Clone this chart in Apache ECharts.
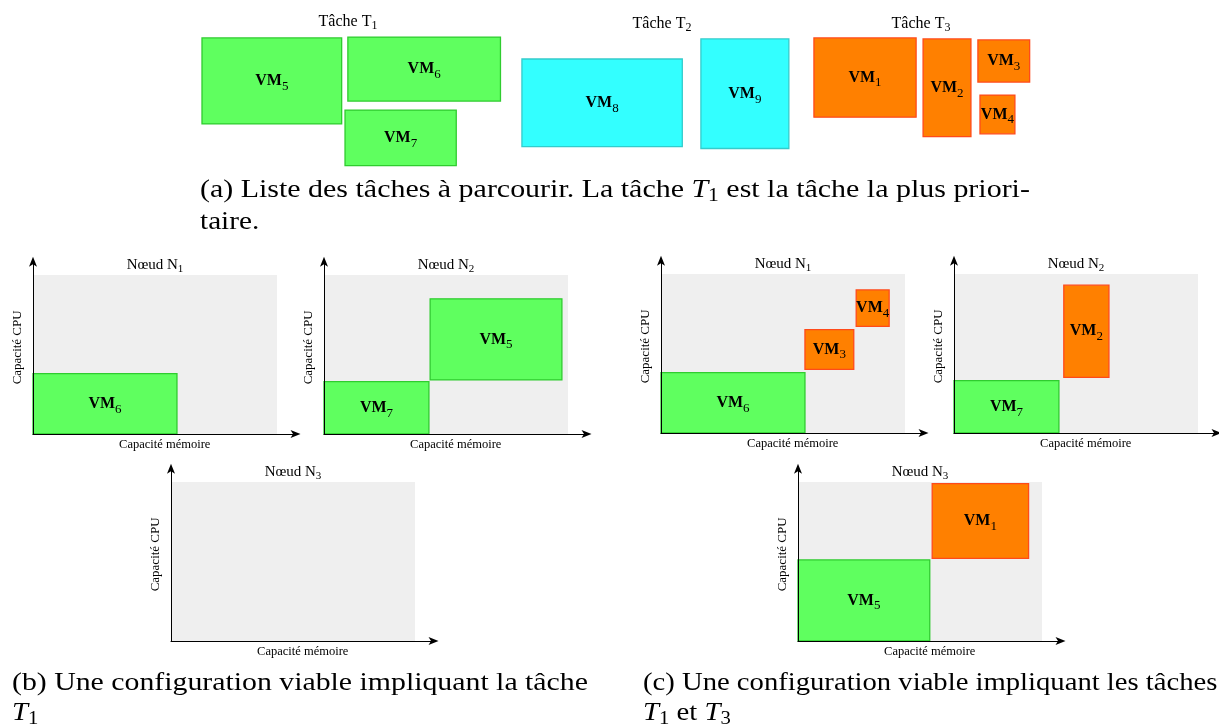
<!DOCTYPE html>
<html>
<head>
<meta charset="utf-8">
<script src="https://cdn.jsdelivr.net/npm/echarts@6/dist/echarts.min.js"></script>
<style>
html,body{margin:0;padding:0;background:#fff;}
#c{width:1219px;height:724px;}
</style>
</head>
<body>
<div id="c"></div>
<script>
// ---------------- data ----------------
const vmIds    = [1, 2, 3, 4, 5, 6, 7, 8, 9];
const vmMemory = [39.5, 18.5, 20, 13.5, 54, 59, 43, 62, 34]; // memory demand (node capacity = 100)
const vmCpu    = [47, 58, 25, 23, 51, 38, 33, 52, 65];       // CPU demand (node capacity = 100)
const vmTask   = [3, 3, 3, 3, 1, 1, 1, 2, 2];
const taskIds  = [1, 2, 3];
const nodeIds  = [1, 2, 3];
const nodeMemCapacity = 100;
const nodeCpuCapacity = 100;
// placements: [node, vm, memory offset, cpu offset]
const configB = [[1, 6, 0, 0], [2, 7, 0, 0], [2, 5, 43.5, 34]];
const configC = [[1, 6, 0, 0], [1, 3, 59, 40], [1, 4, 80, 67], [2, 7, 0, 0], [2, 2, 45, 35], [3, 5, 0, 0], [3, 1, 55, 52]];
const axisMemName = 'Capacité mémoire';
const axisCpuName = 'Capacité CPU';
const taskTitle = 'Tâche T';
const nodeTitle = 'Nœud N';
const captionA1 = '(a) Liste des tâches à parcourir. La tâche {i|T}{s|1} est la tâche la plus priori-';
const captionA2 = 'taire.';
const captionB1 = '(b) Une configuration viable impliquant la tâche';
const captionB2 = '{i|T}{s|1}';
const captionC1 = '(c) Une configuration viable impliquant les tâches';
const captionC2 = '{i|T}{s|1} et {i|T}{s|3}';

// ---------------- layout / style ----------------
const FONT = 'Liberation Serif';
const PX_MEM = 2.44, PX_CPU = 1.59, TOP_SCALE = 1.06;
const X_MAX = 108, Y_MAX = 109;
// top-left position of each VM in the task list (list units)
const listPos = {1: [314.7, 22.5], 2: [356.9, 23.1], 3: [378.1, 23.7], 4: [378.9, 56.4],
                 5: [78.1, 22.5], 6: [134.5, 22.0], 7: [133.4, 65.3], 8: [201.8, 35.0], 9: [271.0, 23.1]};
const taskTitlePos = {1: [348, 22], 2: [662, 24], 3: [921, 24]};
const panels = [
  {cfg: configB, node: 1, ox: 33,  oy: 434},
  {cfg: configB, node: 2, ox: 324, oy: 434},
  {cfg: configB, node: 3, ox: 171, oy: 641},
  {cfg: configC, node: 1, ox: 661, oy: 433},
  {cfg: configC, node: 2, ox: 954, oy: 433},
  {cfg: configC, node: 3, ox: 798, oy: 641}
];
const taskStyle = {
  1: {fill: '#5fff5f', stroke: '#2fcc2f'},
  2: {fill: '#33ffff', stroke: '#33cccc'},
  3: {fill: '#ff8000', stroke: '#ff4a1a'}
};
const vmRich = {
  b: {fontFamily: FONT, fontWeight: 'bold', fontSize: 16, lineHeight: 24, verticalAlign: 'middle', fill: '#000'},
  s: {fontFamily: FONT, fontSize: 13, lineHeight: 14, verticalAlign: 'bottom', fill: '#000'}
};
const nodeRich = {
  n: {fontFamily: FONT, fontSize: 15, lineHeight: 20, verticalAlign: 'middle', fill: '#000'},
  s: {fontFamily: FONT, fontSize: 11, lineHeight: 12, verticalAlign: 'bottom', fill: '#000'}
};

function vmRender(inverseY) {
  return function (params, api) {
    const x = api.value(0), y = api.value(1), w = api.value(2), h = api.value(3);
    const id = api.value(4), t = api.value(5);
    const p = api.coord([x, inverseY ? y : y + h]);
    const s = api.size([w, h]);
    const st = taskStyle[t];
    return {
      type: 'rect',
      shape: {x: p[0], y: p[1], width: s[0], height: s[1]},
      style: {fill: st.fill, stroke: st.stroke, lineWidth: 1.3},
      textContent: {style: {text: '{b|VM}{s|' + id + '}', rich: vmRich}},
      textConfig: {position: 'inside'}
    };
  };
}
function nodeRender(params, api) {
  const w = api.value(0), h = api.value(1), n = api.value(2);
  const p = api.coord([0, h]);
  const s = api.size([w, h]);
  return {
    type: 'rect',
    shape: {x: p[0], y: p[1], width: s[0], height: s[1]},
    style: {fill: '#efefef'},
    textContent: {style: {text: '{n|' + nodeTitle + '}{s|' + n + '}', rich: nodeRich}},
    textConfig: {position: 'top', distance: 0}
  };
}

const grids = [{left: 0, top: 0, width: 1219, height: 180}];
const xAxes = [{gridIndex: 0, type: 'value', show: false, min: 0, max: 1219 / (PX_MEM * TOP_SCALE)}];
const yAxes = [{gridIndex: 0, type: 'value', show: false, inverse: true, min: 0, max: 180 / (PX_CPU * TOP_SCALE)}];
const series = [];

// task list
const listData = vmIds.map((id, i) => [listPos[id][0], listPos[id][1], vmMemory[i], vmCpu[i], id, vmTask[i]]);
series.push({type: 'custom', xAxisIndex: 0, yAxisIndex: 0, renderItem: vmRender(true), data: listData, silent: true, z: 3});

const axisLine = {show: true, onZero: false, lineStyle: {color: '#000', width: 1}, symbol: ['none', 'arrow'], symbolSize: [6, 10], symbolOffset: [0, 4]};
const nameStyle = {fontFamily: FONT, fontSize: 12.5, color: '#000'};

panels.forEach((pn, k) => {
  const gi = k + 1;
  const w = X_MAX * PX_MEM, h = Y_MAX * PX_CPU;
  grids.push({left: pn.ox, top: pn.oy - h, width: w, height: h});
  xAxes.push({gridIndex: gi, type: 'value', min: 0, max: X_MAX, z: 5,
    axisLine: axisLine, axisTick: {show: false}, axisLabel: {show: false}, splitLine: {show: false},
    name: axisMemName, nameLocation: 'middle', nameGap: 4, nameTextStyle: Object.assign({verticalAlign: 'top'}, nameStyle)});
  yAxes.push({gridIndex: gi, type: 'value', min: 0, max: Y_MAX, z: 5,
    axisLine: axisLine, axisTick: {show: false}, axisLabel: {show: false}, splitLine: {show: false},
    name: axisCpuName, nameLocation: 'middle', nameGap: 9, nameTextStyle: Object.assign({fontSize: 13}, nameStyle, {fontSize: 13})});
  series.push({type: 'custom', xAxisIndex: gi, yAxisIndex: gi, renderItem: nodeRender, silent: true, z: 1,
    data: [[nodeMemCapacity, nodeCpuCapacity, pn.node]]});
  const d = pn.cfg.filter(c => c[0] === pn.node).map(c => {
    const i = vmIds.indexOf(c[1]);
    return [c[2], c[3], vmMemory[i], vmCpu[i], c[1], vmTask[i]];
  });
  series.push({type: 'custom', xAxisIndex: gi, yAxisIndex: gi, renderItem: vmRender(false), silent: true, z: 3, data: d});
});

// texts
const titleRich = {
  t: {fontFamily: FONT, fontSize: 16, lineHeight: 20, verticalAlign: 'middle', fill: '#000'},
  s: {fontFamily: FONT, fontSize: 12, lineHeight: 12, verticalAlign: 'bottom', fill: '#000'}
};
const capRich = {
  i: {fontFamily: FONT, fontStyle: 'italic', fontSize: 25, lineHeight: 30, verticalAlign: 'middle', fill: '#000'},
  s: {fontFamily: FONT, fontSize: 18, lineHeight: 18, verticalAlign: 'bottom', fill: '#000'}
};
const graphics = [];
taskIds.forEach(t => {
  graphics.push({type: 'text', x: taskTitlePos[t][0], y: taskTitlePos[t][1], silent: true,
    style: {text: '{t|' + taskTitle + '}{s|' + t + '}', rich: titleRich, align: 'center', verticalAlign: 'middle'}});
});
function caption(text, x, y, sx) {
  graphics.push({type: 'text', x: x, y: y, scaleX: sx, silent: true,
    style: {text: text, rich: capRich, fontFamily: FONT, fontSize: 25, fill: '#000', align: 'left', verticalAlign: 'middle'}});
}
caption(captionA1, 200, 190, 1.198);
caption(captionA2, 200, 222, 1.17);
caption(captionB1, 12, 683, 1.192);
caption(captionB2, 12, 713, 1.15);
caption(captionC1, 643, 683, 1.146);
caption(captionC2, 643, 713, 1.15);

const chart = echarts.init(document.getElementById('c'), null, {renderer: 'canvas'});
chart.setOption({
  animation: false,
  backgroundColor: '#fff',
  grid: grids,
  xAxis: xAxes,
  yAxis: yAxes,
  series: series,
  graphic: graphics
});
</script>
</body>
</html>
